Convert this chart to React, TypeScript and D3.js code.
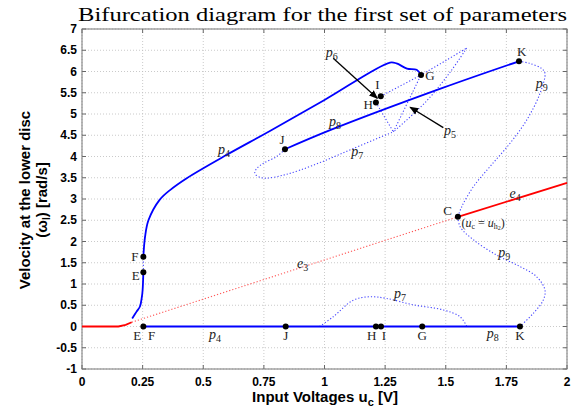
import React from "react";
import * as d3 from "d3";

type P = [number, number];

const xTicks = [0, 0.25, 0.5, 0.75, 1, 1.25, 1.5, 1.75, 2];
const xTickLabels = ["0", "0.25", "0.5", "0.75", "1", "1.25", "1.5", "1.75", "2"];
const yTicks = [-1, -0.5, 0, 0.5, 1, 1.5, 2, 2.5, 3, 3.5, 4, 4.5, 5, 5.5, 6, 6.5, 7];
const yTickLabels = ["-1", "-0.5", "0", "0.5", "1", "1.5", "2", "2.5", "3", "3.5", "4", "4.5", "5", "5.5", "6", "6.5", "7"];

// equilibrium branches (red)
const e1: P[] = [[0, 0], [0.15, 0], [0.18, 0.04], [0.205, 0.1]];
const e3: P[] = [[0.205, 0.1], [1.55, 2.58]];
const e4: P[] = [[1.55, 2.58], [2, 3.38]];

// stable periodic branches (blue solid)
const p4Low: P[] = [[0.207, 0.19], [0.225, 0.35], [0.239, 0.47], [0.247, 0.7], [0.25, 0.86], [0.252, 1.1], [0.253, 1.275]];
const p4Up: P[] = [[0.253, 1.64], [0.26, 2.11], [0.274, 2.5], [0.32, 2.98], [0.363, 3.21], [0.432, 3.49], [0.597, 4.04], [0.775, 4.6], [1.0, 5.33], [1.27, 6.21], [1.297, 6.19], [1.34, 6.07], [1.38, 6.04], [1.398, 5.92]];
const p8Up: P[] = [[0.837, 4.17], [1.023, 4.62], [1.49, 5.62], [1.802, 6.24]];
const minBranch: P[] = [[0.246, 0], [1.806, 0]];

// unstable periodic branches (blue dotted)
const efGap: P[] = [[0.253, 1.275], [0.253, 1.64]];
const p7Up: P[] = [[0.837, 4.17], [0.803, 4.0], [0.748, 3.84], [0.718, 3.7], [0.713, 3.6], [0.734, 3.51], [0.761, 3.49], [0.83, 3.56], [0.899, 3.68], [1.0, 3.9], [1.119, 4.19], [1.284, 4.58]];
const p6a: P[] = [[1.212, 5.27], [1.284, 4.58]];
const p5a: P[] = [[1.284, 4.58], [1.398, 5.92]];
const p6b: P[] = [[1.232, 5.42], [1.398, 5.92], [1.586, 6.55]];
const p5b: P[] = [[1.586, 6.55], [1.52, 6.0], [1.42, 5.3], [1.284, 4.58]];
const p9Up: P[] = [[1.802, 6.24], [1.847, 6.19], [1.895, 6.07], [1.909, 5.96], [1.889, 5.49], [1.834, 4.86], [1.765, 4.31], [1.682, 3.76], [1.614, 3.29], [1.566, 2.82], [1.55, 2.58]];
const p9Low: P[] = [[1.55, 2.58], [1.559, 2.35], [1.614, 2.04], [1.71, 1.68], [1.806, 1.41], [1.875, 1.17], [1.909, 0.86], [1.902, 0.62], [1.861, 0.31], [1.806, 0]];
const p7Low: P[] = [[0.98, 0], [1.036, 0.23], [1.119, 0.62], [1.188, 0.7], [1.256, 0.66], [1.366, 0.51], [1.49, 0.39], [1.559, 0.23], [1.586, 0.01]];

const dots: P[] = [[0.253, 1.275], [0.253, 1.64], [0.253, 0], [0.837, 4.17], [0.84, 0], [1.212, 5.27], [1.232, 5.42], [1.398, 5.92], [1.802, 6.24], [1.55, 2.58], [1.212, 0], [1.233, 0], [1.403, 0], [1.806, 0]];

// letter labels: text, u, v
const letterLabels: [string, number, number][] = [
  ["F", 0.218, 1.64], ["E", 0.222, 1.2], ["E", 0.228, -0.22], ["F", 0.287, -0.22],
  ["J", 0.825, 4.4], ["J", 0.84, -0.22], ["I", 1.218, 5.7], ["H", 1.18, 5.22],
  ["G", 1.435, 5.9], ["K", 1.813, 6.48], ["C", 1.508, 2.73],
  ["H", 1.195, -0.2], ["I", 1.245, -0.2], ["G", 1.403, -0.22], ["K", 1.806, -0.22],
];
// p / e labels: letter, index, u, v
const branchLabels: [string, string, number, number][] = [
  ["p", "4", 0.586, 4.15], ["p", "6", 1.03, 6.43], ["p", "5", 1.518, 4.6], ["p", "8", 1.043, 4.82],
  ["p", "7", 1.135, 4.1], ["p", "9", 1.896, 5.72], ["e", "4", 1.786, 3.12], ["e", "3", 0.91, 1.48],
  ["p", "9", 1.741, 1.74], ["p", "7", 1.311, 0.76], ["p", "8", 1.694, -0.16], ["p", "4", 0.548, -0.2],
];
const arrows: [P, P][] = [
  [[1.036, 6.31], [1.218, 5.37]],
  [[1.49, 4.68], [1.353, 5.16]],
];

const W = 576, H = 412;
const L = 82, R = 567, T = 29, B = 369;

export default function App() {
  const x = d3.scaleLinear().domain([0, 2]).range([L, R]);
  const y = d3.scaleLinear().domain([-1, 7]).range([B, T]);
  const line = d3.line<P>().x(d => x(d[0])).y(d => y(d[1]));
  const curve = d3.line<P>().x(d => x(d[0])).y(d => y(d[1])).curve(d3.curveCatmullRom.alpha(0.5));

  const solidBlue = { fill: "none", stroke: "#0000ff", strokeWidth: 1.8 };
  const dotBlue = { fill: "none", stroke: "#4444ff", strokeWidth: 1.1, strokeDasharray: "1.2 2" };
  const serif = "'Liberation Serif', 'DejaVu Serif', serif";
  const sans = "'Liberation Sans', Arial, sans-serif";

  return (
    <svg width={W} height={H} style={{ position: "absolute", left: 0, top: 0, background: "#fff" }}>
      <defs>
        <marker id="ah" viewBox="0 0 10 10" refX="9" refY="5" markerWidth="9" markerHeight="9" orient="auto" markerUnits="userSpaceOnUse">
          <path d="M0,1 L10,5 L0,9 Z" fill="#000" />
        </marker>
      </defs>
      <rect x={0} y={0} width={W} height={H} fill="#fff" />
      <text x={(L + R) / 2 - 2} y={21} textAnchor="middle" fontFamily={serif} fontSize={19} textLength={489} lengthAdjust="spacingAndGlyphs">
        Bifurcation diagram for the first set of parameters
      </text>
      {/* grid */}
      {xTicks.map((t, i) => (
        <line key={"gx" + i} x1={x(t)} x2={x(t)} y1={T} y2={B} stroke="#bdbdbd" strokeWidth={0.8} strokeDasharray="1 2" />
      ))}
      {yTicks.map((t, i) => (
        <line key={"gy" + i} x1={L} x2={R} y1={y(t)} y2={y(t)} stroke="#bdbdbd" strokeWidth={0.8} strokeDasharray="1 2" />
      ))}
      {/* ticks */}
      {xTicks.map((t, i) => (
        <g key={"tx" + i}>
          <line x1={x(t)} x2={x(t)} y1={B} y2={B - 4} stroke="#666" />
          <line x1={x(t)} x2={x(t)} y1={T} y2={T + 4} stroke="#666" />
          <text x={x(t)} y={386} textAnchor="middle" fontFamily={sans} fontWeight="bold" fontSize={12}>{xTickLabels[i]}</text>
        </g>
      ))}
      {yTicks.map((t, i) => (
        <g key={"ty" + i}>
          <line x1={L} x2={L + 4} y1={y(t)} y2={y(t)} stroke="#666" />
          <line x1={R} x2={R - 4} y1={y(t)} y2={y(t)} stroke="#666" />
          <text x={77} y={y(t)} dy="0.35em" textAnchor="end" fontFamily={sans} fontWeight="bold" fontSize={12}>{yTickLabels[i]}</text>
        </g>
      ))}
      <rect x={L} y={T} width={R - L} height={B - T} fill="none" stroke="#777" strokeWidth={1} />

      {/* red equilibria */}
      <path d={line(e1) || ""} fill="none" stroke="#ff0000" strokeWidth={1.8} />
      <path d={line(e3) || ""} fill="none" stroke="#ff5555" strokeWidth={1.1} strokeDasharray="1.2 2" />
      <path d={line(e4) || ""} fill="none" stroke="#ff0000" strokeWidth={1.8} />

      {/* blue dotted */}
      {[efGap, p7Up, p6a, p5a, p6b, p5b, p9Up, p9Low, p7Low].map((s, i) => (
        <path key={"d" + i} d={(s.length > 2 ? curve(s) : line(s)) || ""} {...dotBlue} />
      ))}
      {/* blue solid */}
      {[p4Low, p4Up, p8Up, minBranch].map((s, i) => (
        <path key={"s" + i} d={(s.length > 2 ? curve(s) : line(s)) || ""} {...solidBlue} />
      ))}

      {/* arrows */}
      {arrows.map((a, i) => (
        <line key={"a" + i} x1={x(a[0][0])} y1={y(a[0][1])} x2={x(a[1][0])} y2={y(a[1][1])} stroke="#000" strokeWidth={1.3} markerEnd="url(#ah)" />
      ))}

      {/* dots */}
      {dots.map((d, i) => (
        <circle key={"c" + i} cx={x(d[0])} cy={y(d[1])} r={3} fill="#000" />
      ))}

      {/* labels */}
      {letterLabels.map((l, i) => (
        <text key={"l" + i} x={x(l[1])} y={y(l[2])} dy="0.35em" textAnchor="middle" fontFamily={serif} fontSize={13} fill="#222">{l[0]}</text>
      ))}
      {branchLabels.map((l, i) => (
        <text key={"b" + i} x={x(l[2])} y={y(l[3])} dy="0.3em" textAnchor="middle" fontFamily={serif} fontSize={14} fill="#222">
          <tspan fontStyle="italic">{l[0]}</tspan>
          <tspan fontSize={10} dy="3">{l[1]}</tspan>
        </text>
      ))}
      <text x={x(1.565)} y={y(2.44)} dy="0.35em" fontFamily={serif} fontSize={12} fill="#222">
        (<tspan fontStyle="italic">u</tspan><tspan fontSize={8} dy="2">c</tspan><tspan dy="-2"> = </tspan><tspan fontStyle="italic">u</tspan><tspan fontSize={8} dy="2">h</tspan><tspan fontSize={6} dy="1">2</tspan><tspan dy="-3">)</tspan>
      </text>

      {/* axis labels */}
      <text x={325} y={402} textAnchor="middle" fontFamily={sans} fontWeight="bold" fontSize={15}>
        Input Voltages u<tspan fontSize={11} dy="4">c</tspan><tspan dy="-4"> [V]</tspan>
      </text>
      <g transform="translate(30,200) rotate(-90)">
        <text x={0} y={0} textAnchor="middle" fontFamily={sans} fontWeight="bold" fontSize={15}>Velocity at the lower disc</text>
        <text x={0} y={17} textAnchor="middle" fontFamily={sans} fontWeight="bold" fontSize={15}>
          (ω<tspan fontSize={10} dy="3">l</tspan><tspan dy="-3">) [rad/s]</tspan>
        </text>
      </g>
    </svg>
  );
}
